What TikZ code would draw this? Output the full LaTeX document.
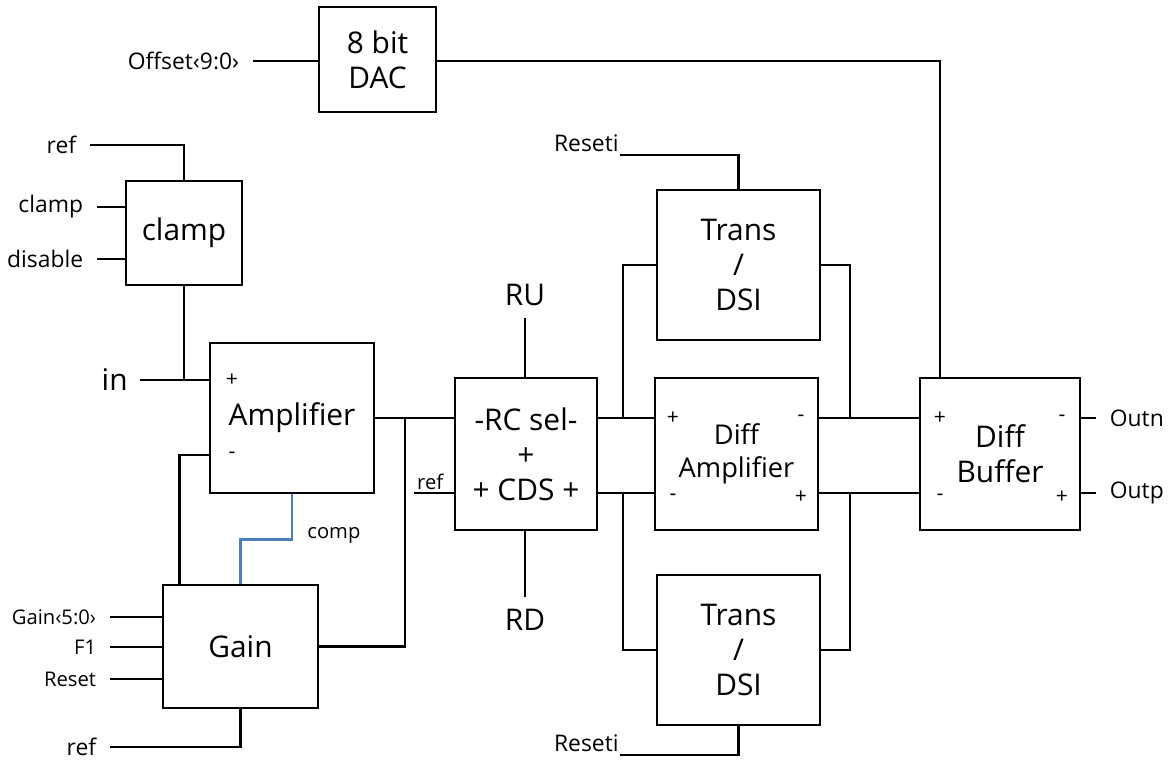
\documentclass[tikz,border=0pt]{standalone}
\usepackage{fontspec}
\setmainfont{Open Sans}
\usetikzlibrary{positioning,calc}
\definecolor{compblue}{HTML}{4A7EC0}

\begin{document}
\begin{tikzpicture}[x=0.2mm,y=-0.2mm,line width=1.6pt,
  blk/.style={draw,fill=white,align=center,inner sep=0pt,font=\fontsize{17}{20}\selectfont},
  lab/.style={font=\fontsize{13}{15}\selectfont,inner xsep=2.5mm,inner ysep=1pt},
  slab/.style={lab,font=\fontsize{11.5}{13}\selectfont},
  big/.style={font=\fontsize{17}{19}\selectfont,inner sep=2.2mm},
  sgn/.style={font=\fontsize{12}{13}\selectfont,inner sep=0pt}]

\useasboundingbox (0,0) rectangle (1172,764);

%% rows and taps
\coordinate (rowA) at (0,418);
\coordinate (rowB) at (0,493);
\coordinate (jAmp) at (405,418);
\coordinate (jL) at (623,0);
\coordinate (jR) at (850,0);
\coordinate (jBuf) at (940,0);
\coordinate (ampM) at (210,455);

%% blocks
\node[blk,minimum width=23.4mm,minimum height=21mm] (dac) at (377.5,59.5) {8 bit\\DAC};
\node[blk,minimum width=23.2mm,minimum height=20.8mm] (clamp) at (184,233) {clamp};
\node[blk,minimum width=32.8mm,minimum height=30mm] (amp) at (292,418) {Amplifier};
\node[blk,minimum width=31mm,minimum height=24.6mm] (gain) at (240.5,646.5) {Gain};
\node[blk,minimum width=28.4mm,minimum height=30.4mm] (cds) at (526,454) {-RC sel-\\+\\+ CDS +};
\node[blk,minimum width=32.6mm,minimum height=30mm] (transT) at (738.5,265) {Trans\\/\\DSI};
\node[blk,minimum width=32.6mm,minimum height=30.4mm,font=\fontsize{15.5}{19}\selectfont] (dif) at (736.5,454) {Diff\\Amplifier};
\node[blk,minimum width=32.6mm,minimum height=30mm] (transB) at (738.5,650) {Trans\\/\\DSI};
\node[blk,minimum width=32mm,minimum height=30.4mm] (buf) at (1000,454) {Diff\\Buffer};

%% pin signs
\node[sgn] (ampP) at (232,380) {+};
\node[sgn] (ampN) at (232,455) {-};
\foreach \nm/\x/\y/\s in {dpa/673/418/+,dna/801/418/-,dnb/673/497/-,dpb/801/497/+,
  bpa/940/418/+,bna/1062/418/-,bnb/940/497/-,bpb/1062/497/+} {
  \node[sgn] (\nm) at (\x,\y) {\s};
}

%% DAC
\node[lab,anchor=east] (offset) at (253,61) {Offset‹9:0›};
\draw (offset.east) -- (offset.east -| dac.west);
\draw (dac.east |- offset.east) -| (jBuf |- buf.north);

%% clamp
\node[lab,anchor=east] (refT) at (90,145) {ref};
\draw (refT.east) -| (clamp.north);
\foreach \nm/\t/\y in {clampIn/clamp/207,dis/disable/259} {
  \node[lab,anchor=east] (\nm) at (97,\y) {\t};
  \draw (\nm.east) -- (\nm.east -| clamp.west);
}
\node[big,anchor=east] (in) at (140,380) {in};
\draw (in.east) -- (in.east -| amp.west);
\draw (clamp.south) -- (clamp.south |- in.east);

%% amplifier and gain
\draw (ampM) -| ([xshift=3.6mm]gain.north west);
\draw (amp.east) -- (amp.east -| cds.west);
\draw (jAmp) |- (gain.east);
\draw[compblue] (amp.south) -- ++(0,45) -| (gain.north);
\node[slab,anchor=west,inner xsep=0pt] (comp) at (306,535) {comp};
\foreach \nm/\t/\y in {gbus/Gain‹5:0›/617,fone/F1/647,rst/Reset/679} {
  \node[slab,anchor=east] (\nm) at (110,\y) {\t};
  \draw (\nm.east) -- (\nm.east -| gain.west);
}
\node[lab,anchor=east] (refB) at (110,747) {ref};
\draw (refB.east) -| (gain.south);

%% RC sel / CDS
\node[slab,anchor=south west,inner sep=1pt] (refM) at (414,493) {ref};
\draw (refM.south west) -- (refM.south west -| cds.west);
\node[big] (ru) at (525,295) {RU};
\draw (ru.south) -- (ru.south |- cds.north);
\node[big] (rd) at (525,620) {RD};
\draw (rd.north) -- (rd.north |- cds.south);

%% differential path
\draw (cds.east |- rowA) -- (dif.west |- rowA);
\draw (cds.east |- rowB) -- (dif.west |- rowB);
\draw (jL |- rowA) |- (transT.west);
\draw (jL |- rowB) |- (transB.west);
\draw (transT.east) -| (jR |- rowA);
\draw (transB.east) -| (jR |- rowB);
\draw (dif.east |- rowA) -- (buf.west |- rowA);
\draw (dif.east |- rowB) -- (buf.west |- rowB);
\node[lab,anchor=south east,inner xsep=0pt] (resT) at (620,155) {Reseti};
\draw (resT.south east) -| (transT.north);
\node[lab,anchor=south east,inner xsep=0pt] (resB) at (620,755) {Reseti};
\draw (resB.south east) -| (transB.south);

%% outputs
\node[lab,anchor=west] (outn) at (1096,418) {Outn};
\node[lab,anchor=west] (outp) at (1096,493) {Outp};
\draw (buf.east |- rowA) -- (outn.west);
\draw (buf.east |- rowB) -- (outp.west);
\end{tikzpicture}
\end{document}
